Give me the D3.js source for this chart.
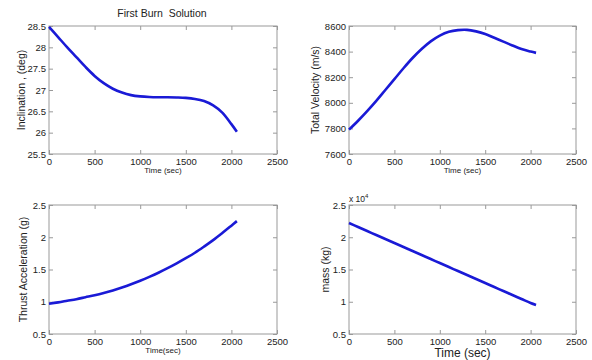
<!DOCTYPE html>
<html>
<head>
<meta charset="utf-8">
<script src="https://cdn.jsdelivr.net/npm/d3@7"></script>
<style>
  body { margin: 0; background: #fff; }
  svg text { font-family: "Liberation Sans", Arial, sans-serif; fill: #222; }
</style>
</head>
<body>
<svg id="chart" width="592" height="360"></svg>
<script>
// time samples (sec), shared by all four panels
const time = [0, 100, 200, 300, 400, 500, 600, 700, 800, 900, 1000, 1100, 1200, 1300, 1400, 1500, 1600, 1700, 1800, 1900, 2000, 2060]

// values
const inclination = [28.48, 28.24, 28.0, 27.77, 27.54, 27.33, 27.16, 27.03, 26.94, 26.88, 26.85, 26.835, 26.83, 26.83, 26.825, 26.815, 26.79, 26.74, 26.64, 26.47, 26.2, 26.02]
const velocity = [7790, 7860, 7935, 8015, 8100, 8185, 8270, 8350, 8420, 8480, 8525, 8555, 8568, 8570, 8558, 8538, 8508, 8478, 8448, 8420, 8400, 8390]
const thrustAcc = [0.97, 0.99, 1.015, 1.04, 1.07, 1.1, 1.135, 1.175, 1.22, 1.27, 1.325, 1.385, 1.45, 1.52, 1.595, 1.675, 1.76, 1.855, 1.955, 2.065, 2.18, 2.25]
const mass = [22200, 21580, 20960, 20340, 19720, 19100, 18480, 17860, 17240, 16620, 16000, 15380, 14760, 14140, 13520, 12900, 12280, 11660, 11040, 10420, 9800, 9500]

// axis ticks
const xTicks = [0, 500, 1000, 1500, 2000, 2500]
const incTicks = [25.5, 26, 26.5, 27, 27.5, 28, 28.5]
const velTicks = [7600, 7800, 8000, 8200, 8400, 8600]
const accTicks = [0.5, 1, 1.5, 2, 2.5]
const massTicks = [5000, 10000, 15000, 20000, 25000]

const svg = d3.select('#chart')

function panel(opts) {
  const {left, right, top, bottom, yDomain, yTicks, values, yLabel, yLabelX, xLabel, xLabelSize, xLabelY, yFormat} = opts
  const x = d3.scaleLinear().domain([0, 2500]).range([left, right])
  const y = d3.scaleLinear().domain(yDomain).range([bottom, top])
  const g = svg.append('g')

  // inward ticks on all four sides, like matlab's boxed axes
  const fmt = yFormat || (d => d3.format('')(d))
  const xAxis = d3.axisBottom(x).tickValues(xTicks).tickSizeInner(-4).tickSizeOuter(0).tickPadding(4).tickFormat(d3.format(''))
  const yAxis = d3.axisLeft(y).tickValues(yTicks).tickSizeInner(-4).tickSizeOuter(0).tickPadding(3).tickFormat(fmt)
  g.append('g').attr('transform', `translate(0,${bottom})`).call(xAxis)
  g.append('g').attr('transform', `translate(${left},0)`).call(yAxis)
  g.append('g').attr('transform', `translate(0,${top})`)
    .call(d3.axisTop(x).tickValues(xTicks).tickSizeInner(-4).tickSizeOuter(0).tickFormat(''))
  g.append('g').attr('transform', `translate(${right},0)`)
    .call(d3.axisRight(y).tickValues(yTicks).tickSizeInner(-4).tickSizeOuter(0).tickFormat(''))
  g.selectAll('.domain').remove()
  g.selectAll('.tick line').attr('stroke', '#999')
  g.selectAll('.tick text').attr('font-size', 9.5).style('fill', '#222')

  g.append('rect').attr('x', left).attr('y', top)
    .attr('width', right - left).attr('height', bottom - top)
    .attr('fill', 'none').attr('stroke', '#999').attr('stroke-width', 1)

  const pts = time.map((t, i) => [t, values[i]])
  g.append('path').datum(pts)
    .attr('d', d3.line().x(d => x(d[0])).y(d => y(d[1])).curve(d3.curveCatmullRom.alpha(0.5)))
    .attr('fill', 'none').attr('stroke', '#1a1ad6').attr('stroke-width', 2.6)

  g.append('text').attr('transform', `translate(${yLabelX},${(top + bottom) / 2}) rotate(-90)`)
    .attr('text-anchor', 'middle').attr('dominant-baseline', 'middle')
    .attr('font-size', 10.5).text(yLabel)
  g.append('text').attr('x', (left + right) / 2).attr('y', xLabelY)
    .attr('text-anchor', 'middle').attr('font-size', xLabelSize).text(xLabel)
  return {x, y}
}

panel({left: 49, right: 277, top: 26, bottom: 154, yDomain: [25.5, 28.5], yTicks: incTicks,
  values: inclination, yLabel: 'Inclination , (deg)', yLabelX: 22, xLabel: 'Time (sec)', xLabelSize: 8, xLabelY: 173})
panel({left: 349, right: 576, top: 26, bottom: 154, yDomain: [7600, 8600], yTicks: velTicks,
  values: velocity, yLabel: 'Total Velocity (m/s)', yLabelX: 316, xLabel: 'Time (sec)', xLabelSize: 8, xLabelY: 173})
panel({left: 49, right: 277, top: 205, bottom: 334, yDomain: [0.5, 2.5], yTicks: accTicks,
  values: thrustAcc, yLabel: 'Thrust Acceleration (g)', yLabelX: 24, xLabel: 'Time(sec)', xLabelSize: 8, xLabelY: 353})
panel({left: 349, right: 576, top: 205, bottom: 334, yDomain: [5000, 25000], yTicks: massTicks,
  values: mass, yLabel: 'mass (kg)', yLabelX: 326, xLabel: 'Time (sec)', xLabelSize: 12, xLabelY: 357,
  yFormat: d => d3.format('')(d / 10000)})

// title (two spaces kept, as in the original) and the exponent note on the mass axis
svg.append('text').attr('x', 162).attr('y', 17).attr('text-anchor', 'middle')
  .attr('font-size', 10.5).text('First Burn\u00a0 Solution')
const expo = svg.append('text').attr('x', 349).attr('y', 202).attr('font-size', 8.5)
expo.append('tspan').text('x 10')
expo.append('tspan').attr('dy', -4).attr('font-size', 6).text('4')
</script>
</body>
</html>
